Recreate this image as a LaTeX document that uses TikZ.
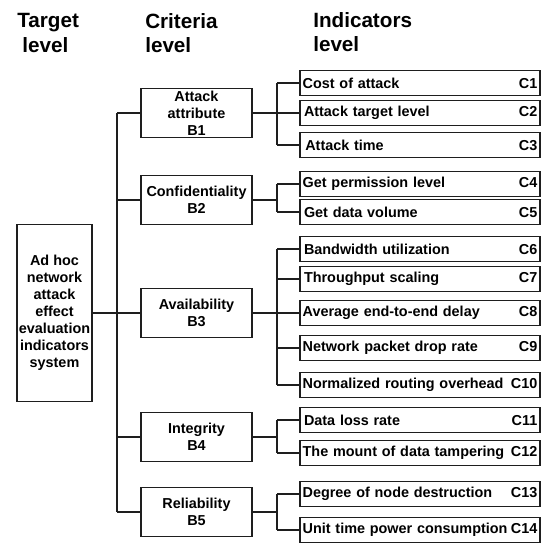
\documentclass[tikz,border=0pt]{standalone}
\usepackage{fontspec}
\setmainfont{Liberation Sans}
\definecolor{ink}{HTML}{1E1E1E}

\tikzset{
  boxfont/.style={font=\fontsize{10.8}{12.75}\selectfont\bfseries},
  headfont/.style={font=\fontsize{15.5}{18.4}\selectfont\bfseries},
  tgtbox/.style={draw=ink, line width=0.9pt, boxfont, align=center,
    minimum width=56.25pt, minimum height=132.75pt, inner sep=0pt},
  critbox/.style={draw=ink, line width=0.9pt, boxfont, align=center,
    minimum width=83.25pt, minimum height=36.75pt, inner sep=0pt},
  indbox/.style={draw=ink, line width=0.9pt, boxfont,
    text width=176pt, minimum height=18.75pt, inner xsep=2pt, inner ysep=0pt},
  link/.style={draw=ink, line width=0.9pt}
}

\begin{document}
\begin{tikzpicture}[x=0.75pt, y=-0.75pt]
  \useasboundingbox (0,0) rectangle (545,543);

  % ── Column headings ──
  \node[headfont, anchor=north west, align=left, inner sep=0pt] (htgt) at (17,13)
    {Target\\\hspace*{0.25em}level};
  \node[headfont, anchor=north west, align=left, inner sep=0pt] (hcrit) at (145,13)
    {Criteria\\level};
  \node[headfont, anchor=north west, align=left, inner sep=0pt] (hind) at (313,12)
    {Indicators\\level};

  % ── Target level ──
  \node[tgtbox] (tgt) at (54.5,313)
    {Ad hoc\\network\\attack\\effect\\evaluation\\indicators\\system};

  % ── Criteria level ──
  \node[critbox] (b1) at (196.5,113) {Attack\\attribute\\B1};
  \node[critbox] (b2) at (196.5,200) {Confidentiality\\B2};
  \node[critbox] (b3) at (196.5,313) {Availability\\B3};
  \node[critbox] (b4) at (196.5,437) {Integrity\\B4};
  \node[critbox] (b5) at (196.5,512) {Reliability\\B5};

  % ── Indicators level ──
  \node[indbox] (c1)  at (420,83)  {Cost of attack\hfill C1};
  \node[indbox] (c2)  at (420,113) {\hspace*{1pt}Attack target level\hfill C2};
  \node[indbox] (c3)  at (420,145) {\hspace*{2pt}Attack time\hfill C3};
  \node[indbox] (c4)  at (420,184) {Get permission level\hfill C4\hspace*{2pt}};
  \node[indbox] (c5)  at (420,212) {\hspace*{1pt}Get data volume\hfill C5};
  \node[indbox] (c6)  at (420,249) {\hspace*{1pt}Bandwidth utilization\hfill C6};
  \node[indbox] (c7)  at (420,279) {\hspace*{1pt}Throughput scaling\hfill C7};
  \node[indbox] (c8)  at (420,313) {Average end-to-end delay\hfill C8};
  \node[indbox] (c9)  at (420,348) {Network packet drop rate\hfill C9};
  \node[indbox] (c10) at (420,385) {Normalized routing overhead\hfill C10};
  \node[indbox] (c11) at (420,420) {\hspace*{1pt}Data loss rate\hfill C11};
  \node[indbox] (c12) at (420,453) {The mount of data tampering\hfill C12};
  \node[indbox] (c13) at (420,494) {Degree of node destruction\hfill C13};
  \node[indbox] (c14) at (420,530) {Unit time power consumption\hfill C14};

  % ── Trunk from target to criteria ──
  \coordinate (trunk) at (117,313);
  \draw[link] (tgt.east) -- (b3.west);
  \draw[link] (b1.west -| trunk) -- (b5.west -| trunk);
  \foreach \b in {b1,b2,b4,b5}
    \draw[link] (\b.west) -- (\b.west -| trunk);

  % ── Forks from criteria to indicators ──
  \coordinate (fork) at (277,0);
  \foreach \b/\first/\last/\all in {b1/c1/c3/{c1,c2,c3}, b2/c4/c5/{c4,c5},
      b3/c6/c10/{c6,c7,c8,c9,c10}, b4/c11/c12/{c11,c12}, b5/c13/c14/{c13,c14}} {
    \draw[link] (\b.east) -- (\b.east -| fork);
    \draw[link] (\first.west -| fork) -- (\last.west -| fork);
    \foreach \c in \all
      \draw[link] (\c.west) -- (\c.west -| fork);
  }

\end{tikzpicture}
\end{document}
